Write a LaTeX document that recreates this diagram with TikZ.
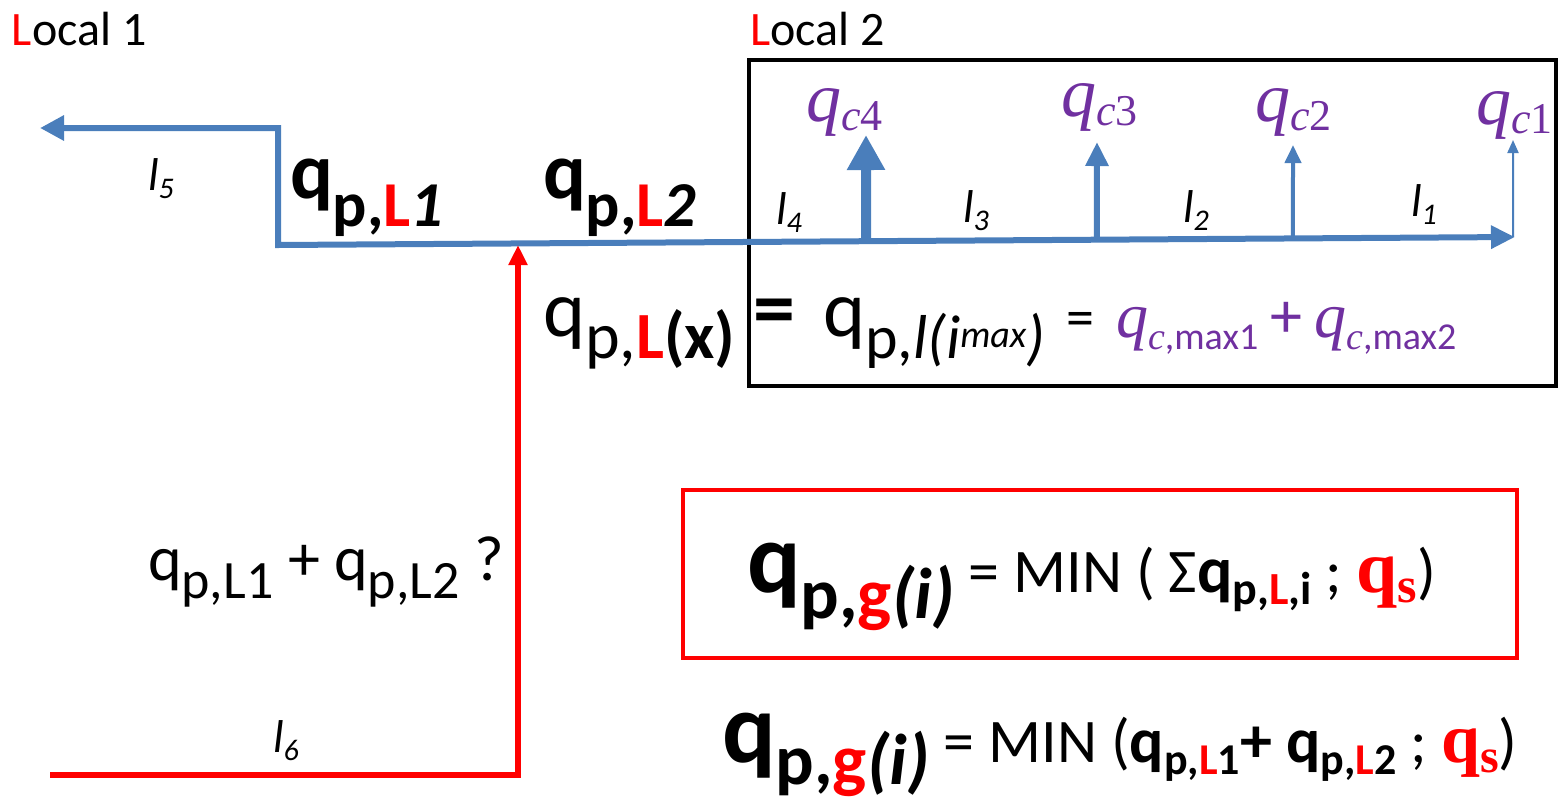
\documentclass[tikz,border=0pt]{standalone}
\usepackage{fontspec}
\setmainfont{Carlito}
\newfontfamily\sr{Liberation Serif}
\usetikzlibrary{arrows.meta,calc}
\definecolor{myblue}{HTML}{4A7EBB}
\definecolor{mypurple}{HTML}{7030A0}
\definecolor{myred}{HTML}{FF0000}
\newcommand\fsz[1]{\fontsize{#1}{#1}\selectfont}
\newcommand\lowr[3]{\raisebox{-#1}{\fsz{#2}#3}}
\newcommand\lr{\textcolor{myred}{L}}
\tikzset{
  txt/.style={anchor=base west,inner sep=0pt,outer sep=0pt},
  bluepipe/.style={draw=myblue,line width=6pt,line join=miter},
  redpipe/.style={draw=myred,line width=6pt,line join=miter},
  up/.style={draw=myblue}
}
\begin{document}
\begin{tikzpicture}[x=1pt,y=-1pt]
\useasboundingbox (0,0) rectangle (1558,804);
% boxes
\draw[line width=4pt,black] (749,60) rectangle (1556,386);
\draw[line width=4pt,myred] (683,490) rectangle (1517,658);
% blue main pipe
\coordinate (bl) at (40,128);
\coordinate (c1) at (278,128);
\coordinate (c2) at (278,245);
\coordinate (br) at (1515,237);
\draw[bluepipe,{Triangle[length=24pt,width=24pt]}-{Triangle[length=24pt,width=22pt]}] (bl) -- (c1) -- (c2) -- (br);
% take-off points
\coordinate (s4) at ($(c2)!0.4754!(br)$);
\coordinate (s3) at ($(c2)!0.662!(br)$);
\coordinate (s2) at ($(c2)!0.8205!(br)$);
\coordinate (s1) at ($(c2)!0.9984!(br)$);
\coordinate (t4) at (866,135);
\coordinate (t3) at (1097,142);
\coordinate (t2) at (1293,145);
\coordinate (t1) at (1513,140);
\draw[up,line width=10pt,-{Triangle[length=35pt,width=36pt]}] (s4) -- (t4);
\draw[up,line width=6pt,-{Triangle[length=24pt,width=22pt]}] (s3) -- (t3);
\draw[up,line width=4pt,-{Triangle[length=18pt,width=16pt]}] (s2) -- (t2);
\draw[up,line width=2pt,-{Triangle[length=13pt,width=11pt]}] (s1) -- (t1);
% red pipe
\coordinate (r0) at (50,775);
\coordinate (r1) at (518,775);
\coordinate (rt) at (518,245);
\draw[redpipe,-{Triangle[length=20pt,width=18pt]}] (r0) -- (r1) -- (rt);
% labels
\node[txt] (local1) at (12,45) {\fsz{48}\textcolor{myred}{L}ocal 1};
\node[txt] (local2) at (750,45) {\fsz{48}\textcolor{myred}{L}ocal 2};
\node[txt] (l5) at (148,190) {\fsz{46}\itshape l\lowr{8pt}{30}{5}};
\node[txt] (l4) at (776,224) {\fsz{46}\itshape l\lowr{8pt}{30}{4}};
\node[txt] (l3) at (963,222) {\fsz{46}\itshape l\lowr{8pt}{30}{3}};
\node[txt] (l2) at (1183,222) {\fsz{46}\itshape l\lowr{8pt}{30}{2}};
\node[txt] (l1) at (1411,216) {\fsz{46}\itshape l\lowr{8pt}{30}{1}};
\node[txt] (l6) at (273,752) {\fsz{46}\itshape l\lowr{8pt}{30}{6}};
% qc labels
\node[txt,text=mypurple] (qc4) at (806,121) {\fsz{70}\sr\itshape q\lowr{9pt}{44}{c\upshape 4}};
\node[txt,text=mypurple] (qc3) at (1061,116) {\fsz{70}\sr\itshape q\lowr{9pt}{44}{c\upshape 3}};
\node[txt,text=mypurple] (qc2) at (1255,121) {\fsz{70}\sr\itshape q\lowr{9pt}{44}{c\upshape 2}};
\node[txt,text=mypurple] (qc1) at (1476,124) {\fsz{70}\sr\itshape q\lowr{9pt}{44}{c\upshape 1}};
% bold labels
\node[txt] (qL1) at (290,198) {\bfseries\fsz{80}q\lowr{28pt}{64}{p,\lr\itshape 1}};
\node[txt] (qL2) at (543,198) {\bfseries\fsz{80}q\lowr{28pt}{64}{p,\lr\itshape 2}};
% q_{p,L(x)} = ...
\node[txt] (qLx) at (543,336) {\fsz{80}q\lowr{22pt}{66}{p,\textbf{\lr(x)}}};
\node[txt] (eqa) at (753,336) {\fsz{84}\textbf{=}};
\node[txt] (qpl) at (823,336) {\fsz{80}q\lowr{22pt}{62}{p,\itshape l(i\raisebox{11pt}{\fsz{38}max})}};
\node[txt] (eqb) at (1066,336) {\fsz{56}=};
\node[txt,text=mypurple] (qcm) at (1116,337) {\fsz{64}{\sr\itshape q}\lowr{12pt}{38}{{\sr\itshape c},max1}\hspace{12pt}{\fsz{64}+}\hspace{12pt}{\fsz{64}\sr\itshape q}\lowr{12pt}{38}{{\sr\itshape c},max2}};
% sum question
\node[txt] (sum) at (148,580) {\fsz{64}q\lowr{18pt}{54}{p,L1} + q\lowr{18pt}{54}{p,L2} ?};
% boxed formula
\node[txt] (f1) at (747,592) {\bfseries\fsz{100}q\lowr{26pt}{72}{p,\textcolor{myred}{g}\itshape(i)}\mdseries\fsz{62} = MIN ( Σ\textbf{\fsz{66}q\lowr{12pt}{46}{p,\lr,i}} ; \textcolor{myred}{\sr\bfseries\fsz{74}q\lowr{10pt}{50}{s}})};
% bottom formula
\node[txt] (f2) at (722,762) {\bfseries\fsz{100}q\lowr{22pt}{72}{p,\textcolor{myred}{g}\itshape(i)}\mdseries\fsz{62} = MIN (\textbf{\fsz{64}q\lowr{12pt}{44}{p,\lr 1}+ q\lowr{12pt}{44}{p,\lr 2}} ; \textcolor{myred}{\sr\bfseries\fsz{70}q\lowr{10pt}{48}{s}})};
\end{tikzpicture}
\end{document}
